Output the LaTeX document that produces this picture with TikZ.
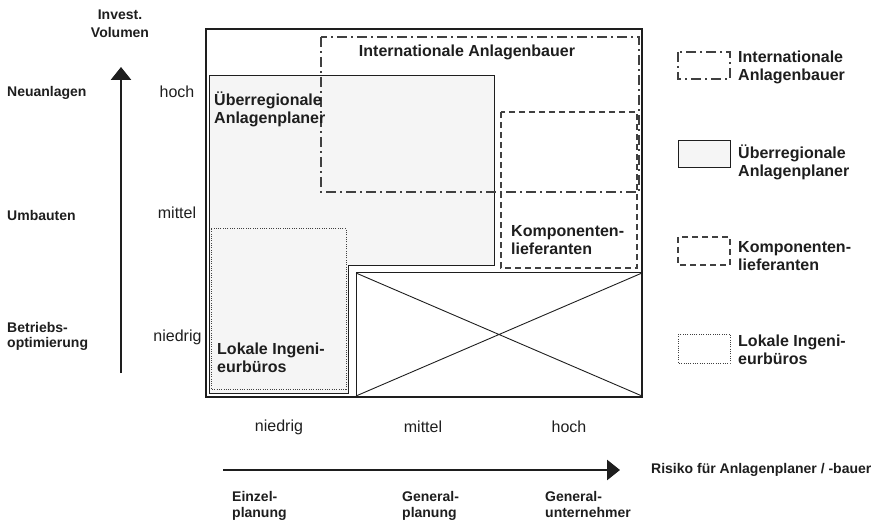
\documentclass[tikz,border=0pt]{standalone}
\usepackage{fontspec}
\setmainfont{Liberation Sans}
\usetikzlibrary{arrows.meta}
\definecolor{ink}{HTML}{1E1E1E}
\definecolor{lightfill}{HTML}{F5F5F5}
\begin{document}
\begin{tikzpicture}[x=1bp,y=-1bp,
  lab/.style={font=\fontsize{16bp}{18bp}\selectfont\bfseries, align=left, inner sep=0pt, anchor=west, text=ink},
  smalllab/.style={font=\fontsize{14bp}{15bp}\selectfont\bfseries, align=left, inner sep=0pt, anchor=west, text=ink},
  botlab/.style={font=\fontsize{14bp}{16bp}\selectfont\bfseries, align=left, inner sep=0pt, anchor=north west, text=ink},
  val/.style={font=\fontsize{16bp}{18bp}\selectfont, inner sep=0pt, text=ink},
  framebox/.style={draw=ink, line width=1.3bp},
  solidbox/.style={draw=ink, line width=1bp},
  dashdotbox/.style={draw=ink!85, line width=1.1bp, dash pattern=on 10bp off 4bp on 2bp off 4bp},
  dashbox/.style={draw=ink!85, line width=1.1bp, dash pattern=on 6bp off 4bp},
  dotbox/.style={draw=ink!85, line width=1bp, dash pattern=on 1bp off 1.3bp},
  axis/.style={draw=ink, line width=2.8bp, -{Triangle[length=13bp,width=20bp]}},
]
\useasboundingbox (0,0) rectangle (875,520);

% outer frame
\draw[framebox] (206,29) rectangle (642,397);

% Ueberregionale Anlagenplaner region
\draw[solidbox, fill=lightfill] (209,76) -- (494,76) -- (494,266) -- (348,266) -- (348,393) -- (209,393) -- cycle;

% Lokale Ingenieurbueros
\draw[dotbox] (211,229) rectangle (346,389);

% Internationale Anlagenbauer
\draw[dashdotbox] (321,37) rectangle (639,192);

% Komponentenlieferanten
\draw[dashbox] (501,112) rectangle (637,268);

% crossed box
\coordinate (xa) at (356,273);
\coordinate (xb) at (642,273);
\coordinate (xc) at (642,396);
\coordinate (xd) at (356,396);
\draw[solidbox] (xa) rectangle (xc);
\draw[ink, line width=0.9bp] (xa) -- (xc) (xb) -- (xd);

% labels in chart
\node[lab, anchor=center] (intl) at (467,52) {Internationale Anlagenbauer};
\node[lab] (ueber) at (214,109) {Überregionale\\Anlagenplaner};
\node[lab] (komp) at (511,240) {Komponenten-\\lieferanten};
\node[lab] (lok) at (217,358) {Lokale Ingeni-\\eurbüros};

% vertical axis
\coordinate (vbot) at (121,373);
\coordinate (vtop) at (121,67);
\draw[axis] (vbot) -- (vtop);
\node[smalllab, anchor=center, align=center, font=\fontsize{14bp}{17.5bp}\selectfont\bfseries] (inv) at (120,24) {Invest.\\Volumen};
\node[smalllab] (neu) at (7,93) {Neuanlagen};
\node[smalllab] (umb) at (7,215) {Umbauten};
\node[smalllab] (betr) at (7,336) {Betriebs-\\optimierung};
\node[val] (vh) at (177,92) {hoch};
\node[val] (vm) at (177,213) {mittel};
\node[val] (vn) at (177.5,337) {niedrig};

% horizontal axis
\coordinate (hl) at (223,470);
\coordinate (hr) at (620,470);
\draw[axis] (hl) -- (hr);
\node[val] (hn) at (279,427) {niedrig};
\node[val] (hm) at (423,427) {mittel};
\node[val] (hh) at (569,427) {hoch};
\node[botlab] (ez) at (232,491) {Einzel-\\planung};
\node[botlab] (gp) at (402,491) {General-\\planung};
\node[botlab] (gu) at (545,491) {General-\\unternehmer};
\node[smalllab] (ris) at (651,470) {Risiko für Anlagenplaner / -bauer};

% legend
\draw[dashdotbox] (678,52) rectangle (730,79);
\node[lab] (l1) at (738,67) {Internationale\\Anlagenbauer};
\draw[solidbox, fill=lightfill] (678,141) rectangle (730,168);
\node[lab] (l2) at (738,162) {Überregionale\\Anlagenplaner};
\draw[dashbox] (678,237) rectangle (730,265);
\node[lab] (l3) at (738,256) {Komponenten-\\lieferanten};
\draw[dotbox] (678,334) rectangle (730,363);
\node[lab] (l4) at (738,350) {Lokale Ingeni-\\eurbüros};
\end{tikzpicture}
\end{document}
